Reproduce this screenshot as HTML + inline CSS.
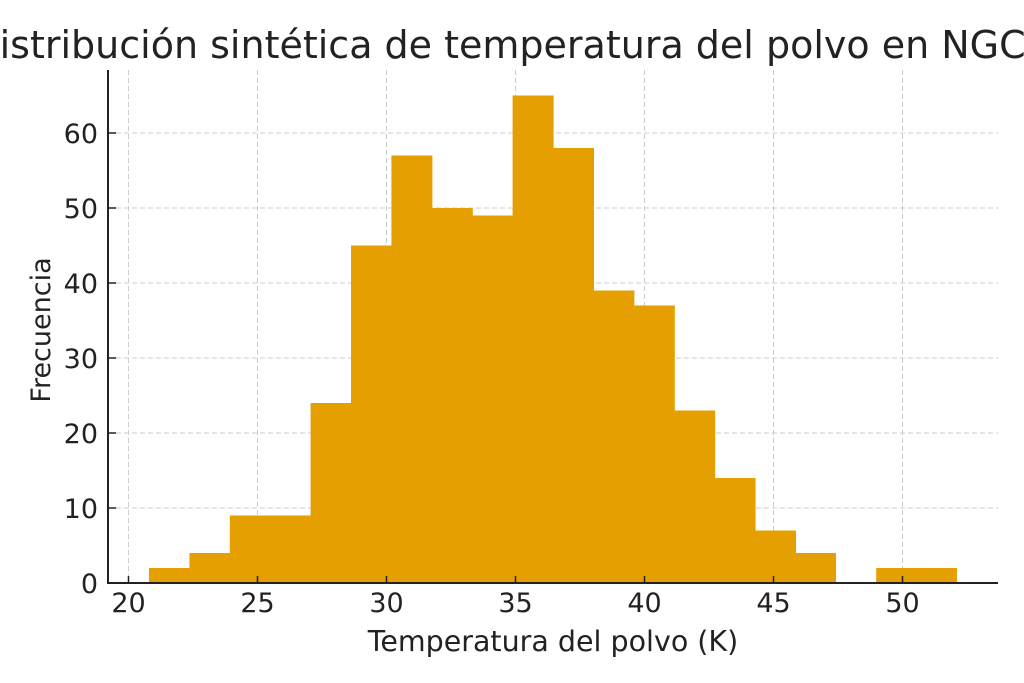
<!DOCTYPE html>
<html><head><meta charset="utf-8"><style>body{margin:0;background:#fff}svg{display:block;font-family:"DejaVu Sans","Liberation Sans",sans-serif}</style></head><body>
<svg width="1024" height="683" viewBox="0 0 1024 683" xmlns="http://www.w3.org/2000/svg">
<rect width="1024" height="683" fill="#fff"/>
<g stroke="#cccccc" stroke-width="1" stroke-dasharray="5,3">
<line x1="128.5" y1="70" x2="128.5" y2="583"/><line x1="257.5" y1="70" x2="257.5" y2="583"/><line x1="386.5" y1="70" x2="386.5" y2="583"/><line x1="515.5" y1="70" x2="515.5" y2="583"/><line x1="644.5" y1="70" x2="644.5" y2="583"/><line x1="773.5" y1="70" x2="773.5" y2="583"/><line x1="902.5" y1="70" x2="902.5" y2="583"/>
<line x1="108" y1="508" x2="998" y2="508"/><line x1="108" y1="433" x2="998" y2="433"/><line x1="108" y1="358" x2="998" y2="358"/><line x1="108" y1="283" x2="998" y2="283"/><line x1="108" y1="208" x2="998" y2="208"/><line x1="108" y1="133" x2="998" y2="133"/>
</g>
<g fill="#E69F00">
<rect x="149" y="568" width="41" height="15"/>
<rect x="189.4" y="553" width="41" height="30"/>
<rect x="229.8" y="515.5" width="41" height="67.5"/>
<rect x="270.2" y="515.5" width="41" height="67.5"/>
<rect x="310.6" y="403" width="41" height="180"/>
<rect x="351" y="245.5" width="41" height="337.5"/>
<rect x="391.4" y="155.5" width="41" height="427.5"/>
<rect x="431.8" y="208" width="41" height="375"/>
<rect x="472.2" y="215.5" width="41" height="367.5"/>
<rect x="512.6" y="95.5" width="41" height="487.5"/>
<rect x="553" y="148" width="41" height="435"/>
<rect x="593.4" y="290.5" width="41" height="292.5"/>
<rect x="633.8" y="305.5" width="41" height="277.5"/>
<rect x="674.2" y="410.5" width="41" height="172.5"/>
<rect x="714.6" y="478" width="41" height="105"/>
<rect x="755" y="530.5" width="41" height="52.5"/>
<rect x="795.4" y="553" width="40.6" height="30"/>
<rect x="876.2" y="568" width="41" height="15"/>
<rect x="916.6" y="568" width="40.4" height="15"/>
</g>
<g stroke="#222" stroke-width="2" fill="none">
<line x1="108" y1="70" x2="108" y2="584"/><line x1="107" y1="583" x2="998" y2="583"/>
</g>
<g stroke="#222" stroke-width="1.5">
<line x1="128.5" y1="583" x2="128.5" y2="576"/><line x1="257.5" y1="583" x2="257.5" y2="576"/><line x1="386.5" y1="583" x2="386.5" y2="576"/><line x1="515.5" y1="583" x2="515.5" y2="576"/><line x1="644.5" y1="583" x2="644.5" y2="576"/><line x1="773.5" y1="583" x2="773.5" y2="576"/><line x1="902.5" y1="583" x2="902.5" y2="576"/>
<line x1="108" y1="583" x2="116" y2="583"/><line x1="108" y1="508" x2="116" y2="508"/><line x1="108" y1="433" x2="116" y2="433"/><line x1="108" y1="358" x2="116" y2="358"/><line x1="108" y1="283" x2="116" y2="283"/><line x1="108" y1="208" x2="116" y2="208"/><line x1="108" y1="133" x2="116" y2="133"/>
</g>
<g fill="#222" font-size="27" text-anchor="middle">
<text x="128.5" y="612">20</text><text x="257.5" y="612">25</text><text x="386.5" y="612">30</text><text x="515.5" y="612">35</text><text x="644.5" y="612">40</text><text x="773.5" y="612">45</text><text x="902.5" y="612">50</text>
</g>
<g fill="#222" font-size="27" text-anchor="end">
<text x="98" y="593">0</text><text x="98" y="518">10</text><text x="98" y="443">20</text><text x="98" y="368">30</text><text x="98" y="293">40</text><text x="98" y="218">50</text><text x="98" y="143">60</text>
</g>
<text x="553" y="651" font-size="28.5" fill="#222" text-anchor="middle">Temperatura del polvo (K)</text>
<text x="0" y="0" font-size="27" fill="#222" text-anchor="middle" transform="translate(50,330) rotate(-90)">Frecuencia</text>
<text x="498" y="58" font-size="38" fill="#222" text-anchor="middle">Distribución sintética de temperatura del polvo en NGC</text>
</svg>
</body></html>
